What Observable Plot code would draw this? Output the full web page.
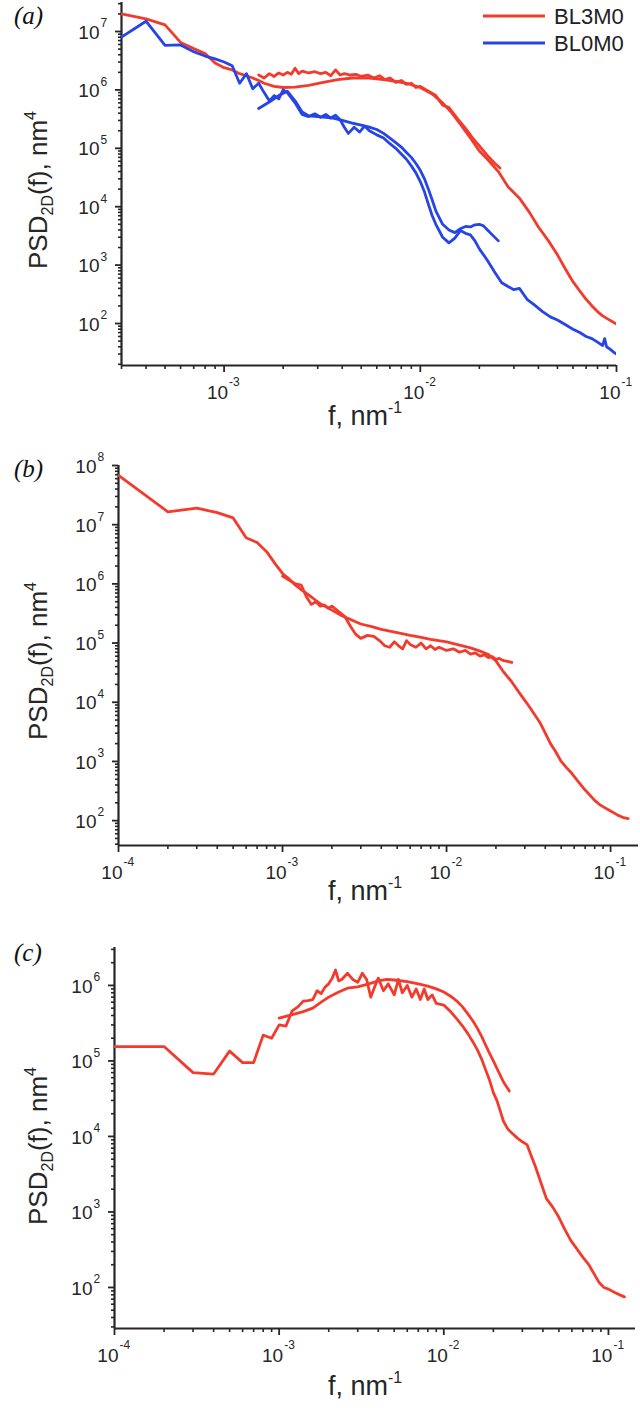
<!DOCTYPE html>
<html><head><meta charset="utf-8">
<script src="https://cdn.jsdelivr.net/npm/d3@7"></script>
<script src="https://cdn.jsdelivr.net/npm/@observablehq/plot@0.6"></script>
<style>
body{margin:0;background:#fff;}
#wrap{position:relative;width:640px;height:1418px;overflow:hidden;background:#fff;}
#wrap svg{position:absolute;left:0;overflow:visible;}
</style></head><body><div id="wrap"></div>
<script>
// ---------- Panel (a): BL3M0 (red) ----------
const aRedLong_f = [3e-4,4e-4,5e-4,6e-4,7e-4,8e-4,9e-4,1.0e-3,1.1e-3,1.2e-3,1.3e-3,1.4e-3,1.5e-3,1.6e-3,1.8e-3,2.0e-3,2.3e-3,2.7e-3,3.2e-3,3.8e-3,4.5e-3,5.5e-3,6.5e-3,7.5e-3,8.5e-3,1.0e-2,1.15e-2,1.3e-2,1.45e-2,1.6e-2,1.8e-2,2.0e-2,2.2e-2,2.5e-2,2.8e-2,3.2e-2,3.6e-2,4.0e-2,4.5e-2,5.0e-2,5.5e-2,6.0e-2,6.5e-2,7.0e-2,7.5e-2,8.0e-2,8.5e-2,9.0e-2,9.5e-2,1.0e-1];
const aRedLong_psd = [2.0e7,1.65e7,1.3e7,6.5e6,5.1e6,4.2e6,2.9e6,2.4e6,2.2e6,1.9e6,1.75e6,1.6e6,1.45e6,1.3e6,1.15e6,1.1e6,1.12e6,1.2e6,1.35e6,1.5e6,1.6e6,1.6e6,1.5e6,1.4e6,1.3e6,1.1e6,8.5e5,6e5,4e5,2.6e5,1.5e5,9e4,6.5e4,4e4,2.2e4,1.4e4,8e3,4.5e3,2.6e3,1.5e3,850,520,360,260,200,160,135,120,108,98];
const aRedShort_f = [1.5e-3,1.6e-3,1.7e-3,1.8e-3,1.9e-3,2.0e-3,2.1e-3,2.2e-3,2.3e-3,2.4e-3,2.5e-3,2.7e-3,2.9e-3,3.1e-3,3.3e-3,3.5e-3,3.7e-3,3.9e-3,4.1e-3,4.4e-3,4.7e-3,5.0e-3,5.4e-3,5.8e-3,6.2e-3,6.6e-3,7.0e-3,7.5e-3,8.0e-3,8.5e-3,9.0e-3,9.5e-3,1.0e-2,1.1e-2,1.2e-2,1.3e-2,1.4e-2,1.55e-2,1.7e-2,1.85e-2,2.0e-2,2.2e-2,2.4e-2,2.55e-2];
const aRedShort_psd = [1.8e6,1.6e6,1.9e6,1.7e6,1.95e6,1.8e6,2.0e6,1.85e6,2.35e6,1.9e6,2.1e6,1.95e6,2.05e6,1.9e6,2.0e6,1.75e6,2.2e6,1.8e6,1.9e6,1.8e6,1.85e6,1.7e6,1.8e6,1.6e6,1.75e6,1.5e6,1.6e6,1.35e6,1.45e6,1.25e6,1.3e6,1.1e6,1.15e6,9.5e5,8e5,5.5e5,5e5,3.2e5,2.2e5,1.5e5,1.1e5,7.5e4,5.5e4,4.6e4];
// ---------- Panel (a): BL0M0 (blue) ----------
const aBlueLong_f = [3e-4,4e-4,5e-4,6e-4,7e-4,8e-4,9e-4,1.0e-3,1.1e-3,1.2e-3,1.3e-3,1.4e-3,1.5e-3,1.6e-3,1.7e-3,1.8e-3,1.9e-3,2.0e-3,2.1e-3,2.3e-3,2.5e-3,2.7e-3,2.9e-3,3.1e-3,3.3e-3,3.5e-3,3.7e-3,3.9e-3,4.1e-3,4.3e-3,4.6e-3,4.9e-3,5.2e-3,5.5e-3,6.0e-3,6.5e-3,7.0e-3,7.5e-3,8.0e-3,8.5e-3,9.0e-3,9.5e-3,1.0e-2,1.05e-2,1.1e-2,1.15e-2,1.2e-2,1.3e-2,1.4e-2,1.5e-2,1.6e-2,1.7e-2,1.8e-2,1.9e-2,2.0e-2,2.2e-2,2.4e-2,2.6e-2,2.8e-2,3.0e-2,3.2e-2,3.5e-2,3.8e-2,4.2e-2,4.6e-2,5.0e-2,5.5e-2,6.0e-2,6.5e-2,7.0e-2,7.5e-2,8.0e-2,8.5e-2,8.7e-2,8.9e-2,9.3e-2,9.7e-2,1.0e-1];
const aBlueLong_psd = [8e6,1.5e7,5.8e6,5.9e6,4.5e6,3.8e6,3.4e6,3.0e6,2.6e6,1.3e6,1.9e6,1.05e6,1.3e6,9e5,6.5e5,8e5,7e5,1.0e6,9e5,6e5,3.8e5,3.5e5,3.9e5,3.4e5,3.8e5,3.3e5,3.7e5,3.1e5,2.3e5,1.8e5,2.3e5,1.9e5,2.4e5,2.0e5,1.7e5,1.5e5,1.2e5,1.0e5,8e4,6.5e4,5e4,3.8e4,2.7e4,1.8e4,1.1e4,7e3,5e3,3.0e3,2.4e3,2.9e3,3.9e3,3.5e3,3.3e3,2.6e3,1.9e3,1.2e3,750,500,430,380,400,260,210,160,130,115,95,80,70,60,55,48,42,55,40,36,32,30];
const aBlueShort_f = [1.5e-3,1.7e-3,1.9e-3,2.1e-3,2.3e-3,2.5e-3,2.7e-3,3.0e-3,3.3e-3,3.6e-3,4.0e-3,4.5e-3,5.0e-3,5.5e-3,6.0e-3,6.5e-3,7.0e-3,7.5e-3,8.0e-3,8.5e-3,9.0e-3,9.5e-3,1.0e-2,1.05e-2,1.1e-2,1.15e-2,1.2e-2,1.3e-2,1.4e-2,1.5e-2,1.6e-2,1.7e-2,1.8e-2,1.9e-2,2.0e-2,2.1e-2,2.2e-2,2.35e-2,2.5e-2];
const aBlueShort_psd = [4.8e5,6.2e5,8e5,9.5e5,6.5e5,4.2e5,3.6e5,3.5e5,3.4e5,3.3e5,3.0e5,2.7e5,2.5e5,2.3e5,2.1e5,1.8e5,1.5e5,1.25e5,1.05e5,8.5e4,7e4,5.5e4,4.2e4,3e4,2e4,1.3e4,8.5e3,5e3,4e3,3.6e3,4.2e3,4.6e3,4.5e3,4.9e3,5e3,4.7e3,4.0e3,3.2e3,2.6e3];
// ---------- Panel (b) ----------
const bLong_f = [1e-4,2e-4,3e-4,4e-4,5e-4,6e-4,7e-4,8e-4,9e-4,1.0e-3,1.1e-3,1.2e-3,1.3e-3,1.5e-3,1.7e-3,2.0e-3,2.3e-3,2.6e-3,3.0e-3,3.5e-3,4e-3,5e-3,6e-3,7e-3,8e-3,1.0e-2,1.2e-2,1.4e-2,1.6e-2,1.8e-2,2.0e-2,2.2e-2,2.5e-2,2.8e-2,3.1e-2,3.4e-2,3.7e-2,4.0e-2,4.3e-2,4.6e-2,5.0e-2,5.4e-2,5.8e-2,6.3e-2,6.8e-2,7.3e-2,8.0e-2,8.6e-2,9.2e-2,1.0e-1,1.1e-1,1.2e-1,1.28e-1];
const bLong_psd = [6.8e7,1.65e7,1.9e7,1.6e7,1.3e7,6e6,5e6,3.5e6,2.2e6,1.5e6,1.2e6,9.5e5,8e5,6e5,4.6e5,3.6e5,2.9e5,2.5e5,2.1e5,1.9e5,1.7e5,1.5e5,1.35e5,1.25e5,1.15e5,1.05e5,9.2e4,8.3e4,7.3e4,6.4e4,5.0e4,3.4e4,2.2e4,1.4e4,9.5e3,6.5e3,4.6e3,3.0e3,2.0e3,1.5e3,1.0e3,780,630,470,360,290,220,185,166,145,125,112,108];
const bShort_f = [1.0e-3,1.1e-3,1.2e-3,1.3e-3,1.4e-3,1.5e-3,1.6e-3,1.7e-3,1.8e-3,1.9e-3,2.0e-3,2.2e-3,2.4e-3,2.6e-3,2.8e-3,3.0e-3,3.3e-3,3.6e-3,3.9e-3,4.2e-3,4.5e-3,4.8e-3,5.1e-3,5.4e-3,5.7e-3,6.0e-3,6.5e-3,7.0e-3,7.5e-3,8.0e-3,8.5e-3,9.0e-3,1.0e-2,1.1e-2,1.2e-2,1.3e-2,1.4e-2,1.5e-2,1.6e-2,1.7e-2,1.8e-2,1.9e-2,2.0e-2,2.1e-2,2.2e-2,2.35e-2,2.5e-2];
const bShort_psd = [1.35e6,1.15e6,1.0e6,9.5e5,6e5,4.5e5,5e5,4.2e5,4.4e5,3.9e5,4.2e5,3.4e5,2.8e5,1.9e5,1.4e5,1.2e5,1.35e5,1.3e5,1.1e5,9e4,8.5e4,1.05e5,9e4,8e4,1.1e5,9.5e4,8.5e4,1.0e5,8e4,9e4,7.8e4,8.5e4,7.5e4,8e4,7e4,7.5e4,6.5e4,6.8e4,6e4,6.3e4,5.7e4,5.9e4,5.3e4,5.5e4,5.1e4,4.9e4,4.7e4];
// ---------- Panel (c) ----------
const cLong_f = [1e-4,2e-4,3e-4,4e-4,5e-4,6e-4,7e-4,8e-4,9e-4,1.0e-3,1.1e-3,1.2e-3,1.3e-3,1.4e-3,1.5e-3,1.6e-3,1.7e-3,1.8e-3,1.9e-3,2.0e-3,2.1e-3,2.2e-3,2.3e-3,2.4e-3,2.6e-3,2.8e-3,3.0e-3,3.2e-3,3.4e-3,3.6e-3,3.8e-3,4.0e-3,4.3e-3,4.6e-3,5.0e-3,5.3e-3,5.6e-3,6.0e-3,6.4e-3,6.8e-3,7.2e-3,7.6e-3,8.0e-3,8.5e-3,9.0e-3,1.0e-2,1.1e-2,1.2e-2,1.3e-2,1.4e-2,1.5e-2,1.6e-2,1.7e-2,1.8e-2,1.9e-2,2.0e-2,2.1e-2,2.2e-2,2.3e-2,2.45e-2,2.6e-2,2.8e-2,3.0e-2,3.2e-2,3.4e-2,3.6e-2,3.9e-2,4.2e-2,4.6e-2,5.0e-2,5.4e-2,5.9e-2,6.4e-2,7.0e-2,7.6e-2,8.2e-2,8.8e-2,9.4e-2,1.0e-1,1.1e-1,1.2e-1,1.25e-1];
const cLong_psd = [1.55e5,1.55e5,7e4,6.7e4,1.35e5,9.5e4,9.5e4,2.2e5,2.0e5,3.0e5,2.9e5,4.6e5,5.2e5,6.2e5,6.3e5,6.5e5,8.5e5,7.8e5,9.5e5,1.05e6,1.25e6,1.6e6,1.15e6,1.2e6,1.45e6,1.2e6,1.1e6,1.45e6,1.2e6,7e5,9.5e5,1.25e6,8.5e5,1.05e6,7.5e5,1.2e6,8e5,1.0e6,7e5,9e5,6.5e5,9e5,6.5e5,7.5e5,5.8e5,5.5e5,4.5e5,3.6e5,2.9e5,2.3e5,1.8e5,1.4e5,1.05e5,7.5e4,5.5e4,3.8e4,3.0e4,2.2e4,1.6e4,1.25e4,1.1e4,9.5e3,8.5e3,7.8e3,5.5e3,4e3,2.4e3,1.5e3,1.15e3,850,600,420,330,250,200,150,115,100,95,85,78,75];
const cShort_f = [1.0e-3,1.2e-3,1.4e-3,1.6e-3,1.8e-3,2.0e-3,2.3e-3,2.6e-3,3.0e-3,3.5e-3,4.0e-3,4.5e-3,5.0e-3,6.0e-3,7.0e-3,8.0e-3,9.0e-3,1.0e-2,1.1e-2,1.2e-2,1.3e-2,1.4e-2,1.5e-2,1.6e-2,1.7e-2,1.8e-2,1.9e-2,2.0e-2,2.1e-2,2.2e-2,2.3e-2,2.4e-2,2.5e-2];
const cShort_psd = [3.7e5,4.1e5,4.5e5,5.0e5,6.0e5,7.0e5,8.2e5,9.2e5,9.6e5,1.05e6,1.15e6,1.2e6,1.18e6,1.12e6,1.05e6,9.8e5,9e5,8.2e5,7.2e5,6.2e5,5.2e5,4.2e5,3.4e5,2.7e5,2.1e5,1.6e5,1.25e5,1.0e5,8e4,6.5e4,5.3e4,4.6e4,4.0e4];

const legendNames = ["BL3M0", "BL0M0"];
const panelLetters = ["(a)", "(b)", "(c)"];

const RED = "#f23b2d", BLUE = "#2745e6", AX = "#262626";
const SANS = "Liberation Sans, Arial, Helvetica, sans-serif";
const rows = (f, p) => f.map((v, i) => ({f: v, psd: p[i]}));

function panel(cfg) {
  const {top, height, mt, mb, ml, mr, xdom, ydom, series, letter, letterY, yLabelCenter, xLabelY} = cfg;
  const pow = dom => d3.range(Math.ceil(Math.log10(dom[0]) - 1e-9), Math.floor(Math.log10(dom[1]) + 1e-9) + 1).map(e => Math.pow(10, e));
  const xMaj = pow(xdom), yMaj = pow(ydom);
  const isMaj = v => Math.abs(Math.log10(v) - Math.round(Math.log10(v))) < 1e-6;
  const xMin = d3.scaleLog().domain(xdom).ticks().filter(v => !isMaj(v));
  const yMin = d3.scaleLog().domain(ydom).ticks().filter(v => !isMaj(v));
  const expo = d => String(Math.round(Math.log10(d)));
  const marks = [
    Plot.axisX(xMin, {anchor: "bottom", tickSize: 4, tickFormat: () => "", label: null, stroke: AX, strokeWidth: 1.6}),
    Plot.axisX(xMaj, {anchor: "bottom", tickSize: 7, tickFormat: () => "", label: null, stroke: AX, strokeWidth: 1.8}),
    Plot.axisY(yMin, {anchor: "left", tickSize: 3, tickFormat: () => "", label: null, stroke: AX, strokeWidth: 1.6}),
    Plot.axisY(yMaj, {anchor: "left", tickSize: 6, tickFormat: () => "", label: null, stroke: AX, strokeWidth: 1.8}),
    Plot.ruleX([xdom[0]], {stroke: AX, strokeWidth: 2.2}),
    Plot.ruleY([ydom[0]], {stroke: AX, strokeWidth: 2.2}),
    ...series.map(s => Plot.line(s.data, {x: "f", y: "psd", stroke: s.color, strokeWidth: 2.8, strokeLinejoin: "round", clip: true})),
    Plot.text(yMaj, {x: xdom[0], y: d => d, text: () => "10", textAnchor: "end", dx: -22, dy: 1, fontSize: 19, fontFamily: SANS, fill: AX}),
    Plot.text(yMaj, {x: xdom[0], y: d => d, text: expo, textAnchor: "start", dx: -21, dy: -8, fontSize: 12, fontFamily: SANS, fill: AX}),
    Plot.text(xMaj, {x: d => d, y: ydom[0], text: () => "10", textAnchor: "end", dx: 4, dy: 27, fontSize: 19, fontFamily: SANS, fill: AX}),
    Plot.text(xMaj, {x: d => d, y: ydom[0], text: d => "-" + String(-Math.round(Math.log10(d))), textAnchor: "start", dx: 5, dy: 17, fontSize: 12, fontFamily: SANS, fill: AX})
  ];
  const svg = Plot.plot({
    width: 640, height,
    marginTop: mt, marginBottom: mb, marginLeft: ml, marginRight: mr,
    x: {type: "log", domain: xdom},
    y: {type: "log", domain: ydom},
    style: {fontFamily: SANS, background: "transparent", overflow: "visible"},
    marks
  });
  svg.style.top = top + "px";
  const s = d3.select(svg);
  // panel letter
  s.append("text").attr("x", 14).attr("y", letterY - top).attr("text-anchor", "start")
    .attr("font-family", "Liberation Serif, Times New Roman, serif").attr("font-style", "italic")
    .attr("font-size", 25).attr("fill", "#111").text(letter);
  // y axis title
  const yt = s.append("text").attr("transform", `translate(47,${yLabelCenter - top}) rotate(-90)`)
    .attr("text-anchor", "middle").attr("font-family", SANS).attr("font-size", 26).attr("fill", AX);
  yt.append("tspan").text("PSD");
  yt.append("tspan").attr("font-size", 16).attr("dy", 6).text("2D");
  yt.append("tspan").attr("dy", -6).text("(f), nm");
  yt.append("tspan").attr("font-size", 16).attr("dy", -11).text("4");
  // x axis title
  const xt = s.append("text").attr("x", 365).attr("y", xLabelY - top)
    .attr("text-anchor", "middle").attr("font-family", SANS).attr("font-size", 27).attr("fill", AX);
  xt.append("tspan").text("f, nm");
  xt.append("tspan").attr("font-size", 16).attr("dy", -12).text("-1");
  return s;
}

const wrap = document.getElementById("wrap");

const sa = panel({
  top: 0, height: 440, mt: 2, mb: 75, ml: 121, mr: 24,
  xdom: [3e-4, 0.1], ydom: [19.1, 3.14e7],
  series: [
    {data: rows(aRedLong_f, aRedLong_psd), color: RED},
    {data: rows(aRedShort_f, aRedShort_psd), color: RED},
    {data: rows(aBlueLong_f, aBlueLong_psd), color: BLUE},
    {data: rows(aBlueShort_f, aBlueShort_psd), color: BLUE}
  ],
  letter: panelLetters[0], letterY: 24, yLabelCenter: 190, xLabelY: 425
});
// legend
[[legendNames[0], RED, 16], [legendNames[1], BLUE, 43]].forEach(([name, col, y]) => {
  sa.append("line").attr("x1", 483).attr("x2", 545).attr("y1", y).attr("y2", y).attr("stroke", col).attr("stroke-width", 3);
  sa.append("text").attr("x", 554).attr("y", y + 8).attr("text-anchor", "start").attr("font-family", SANS).attr("font-size", 22).attr("fill", "#222").text(name);
});
wrap.appendChild(sa.node());

const sb = panel({
  top: 440, height: 470, mt: 25, mb: 65, ml: 118, mr: 2,
  xdom: [1e-4, 0.148], ydom: [38, 1e8],
  series: [
    {data: rows(bLong_f, bLong_psd), color: RED},
    {data: rows(bShort_f, bShort_psd), color: RED}
  ],
  letter: panelLetters[1], letterY: 477, yLabelCenter: 661, xLabelY: 900
});
wrap.appendChild(sb.node());

const sc = panel({
  top: 910, height: 508, mt: 37, mb: 90, ml: 114, mr: 5,
  xdom: [1e-4, 0.146], ydom: [28.6, 3.18e6],
  series: [
    {data: rows(cLong_f, cLong_psd), color: RED},
    {data: rows(cShort_f, cShort_psd), color: RED}
  ],
  letter: panelLetters[2], letterY: 961, yLabelCenter: 1146, xLabelY: 1395
});
wrap.appendChild(sc.node());
</script></body></html>
